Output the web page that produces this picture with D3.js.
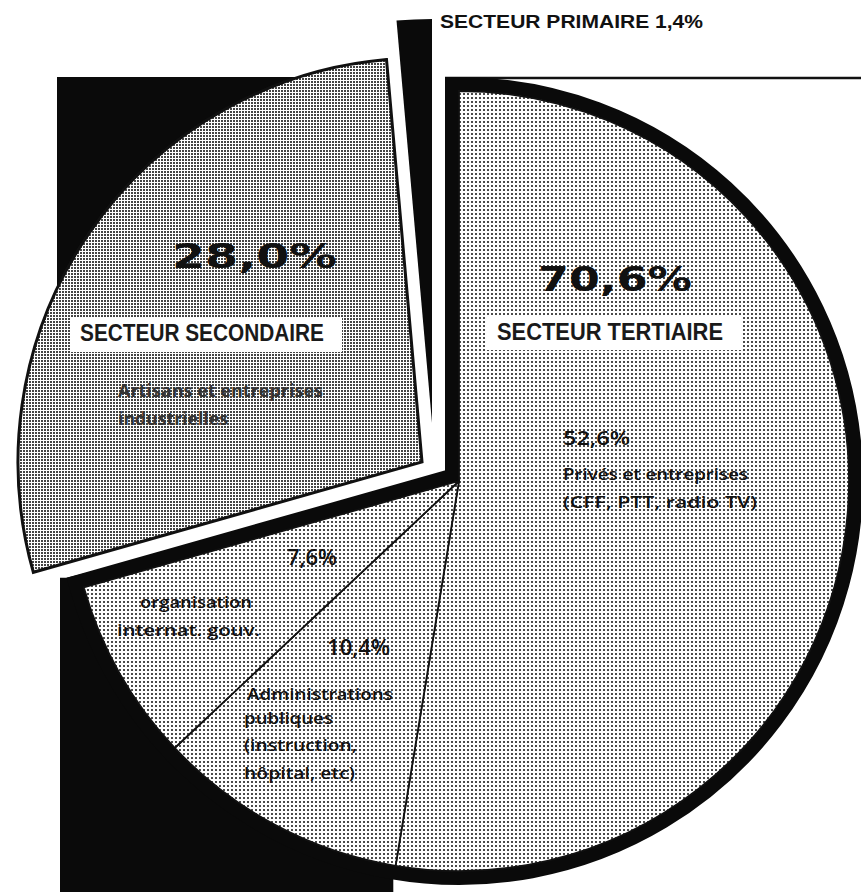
<!DOCTYPE html>
<html>
<head>
<meta charset="utf-8">
<script src="https://cdn.jsdelivr.net/npm/d3@7"></script>
<style>
body{margin:0;background:#fff;}
svg{display:block;}
</style>
</head>
<body>
<svg id="chart" width="861" height="892"></svg>
<script>
// données (ordre de dessin : tertiaire, secondaire, primaire, sens horaire depuis midi)
var sectors = ["tertiaire", "secondaire", "primaire"];
var sectorShares = [70.6, 28.0, 1.4];
var sectorPct = ["70,6%", "28,0%", "1,4%"];
var sectorNames = ["SECTEUR TERTIAIRE", "SECTEUR SECONDAIRE", "SECTEUR PRIMAIRE"];
var tertiaryParts = ["privés", "administrations", "organisation"];
var tertiaryShares = [52.6, 10.4, 7.6];
var tertiaryPct = ["52,6%", "10,4%", "7,6%"];
var tertiaryText = [
	["Privés et entreprises", "(CFF, PTT, radio TV)"],
	["Administrations", "publiques", "(instruction,", "hôpital, etc)"],
	["organisation", "internat. gouv."]
];
var secondaryText = ["Artisans et entreprises", "industrielles"];

var W = 861, H = 892;
var cx = 459, cy = 481;
var rFace = 390, rim = 14, rOut = rFace + rim;
var explode = { secondaire: [-37, -19], primaire: [-27, -58] };

var svg = d3.select("#chart");

// trames
var defs = svg.append("defs");
var p1 = defs.append("pattern").attr("id","dots").attr("patternUnits","userSpaceOnUse")
	.attr("width",4).attr("height",4);
p1.append("rect").attr("width",4).attr("height",4).attr("fill","#fff");
p1.append("rect").attr("width",2).attr("height",2).attr("fill","#4a4a4a");
var p2 = defs.append("pattern").attr("id","lines").attr("patternUnits","userSpaceOnUse")
	.attr("width",3).attr("height",3);
p2.append("rect").attr("width",3).attr("height",3).attr("fill","#fff");
p2.append("rect").attr("width",2).attr("height",2).attr("fill","#444");

var pie = d3.pie().sort(null).value(function(d){ return d; });
var arcs = pie(sectorShares);
var tert = arcs[0], sec = arcs[1], prim = arcs[2];
var subArcs = d3.pie().sort(null).startAngle(tert.startAngle).endAngle(tert.endAngle)(tertiaryShares);

var arcFace = d3.arc().innerRadius(0).outerRadius(rFace);
var arcOut = d3.arc().innerRadius(0).outerRadius(rOut);

function pt(ox, oy, a, r){ return [ox + r*Math.sin(a), oy - r*Math.cos(a)]; }

var sx = cx + explode.secondaire[0], sy = cy + explode.secondaire[1];
var px = cx + explode.primaire[0], py = cy + explode.primaire[1];
var frameL = cx - rOut, frameT = cy - rOut;

// filet du haut
svg.append("line")
	.attr("x1", cx - rim).attr("x2", W)
	.attr("y1", frameT + 1).attr("y2", frameT + 1)
	.attr("stroke","#111").attr("stroke-width",2.5);

// ombre noire en haut à gauche
var secCorner = pt(sx, sy, sec.endAngle, rOut);
svg.append("rect")
	.attr("x", frameL + 2).attr("y", frameT)
	.attr("width", secCorner[0] - frameL - 2).attr("height", sy - frameT)
	.attr("fill","#0a0a0a");

// épaisseur noire en bas à gauche
var a2 = tert.endAngle, a1 = subArcs[0].endAngle;
var fp = pt(cx, cy, a2, rFace);
var cornerA = [fp[0] + rim*Math.sin(a2) + rim*Math.cos(a2),
	fp[1] - rim*Math.cos(a2) + rim*Math.sin(a2)];
var B = pt(cx, cy, a1, rOut);
svg.append("path")
	.attr("d", d3.line()([[cx, cy], cornerA, [frameL + 5, cornerA[1]], [frameL + 5, H + 20], [B[0], H + 20], B]) + "Z")
	.attr("fill","#0a0a0a");

// secteur tertiaire : socle noir puis faces tramées
svg.append("path")
	.attr("transform","translate(" + cx + "," + cy + ")")
	.attr("d", arcFace(tert))
	.attr("fill","#0a0a0a").attr("stroke","#0a0a0a")
	.attr("stroke-width", rim*2).attr("stroke-linejoin","miter").attr("stroke-miterlimit",10);

svg.append("g").attr("transform","translate(" + cx + "," + cy + ")")
	.selectAll("path").data(subArcs).enter().append("path")
	.attr("d", arcFace)
	.attr("fill","url(#dots)")
	.attr("stroke","#111").attr("stroke-width",1.8);

// secteur secondaire (détaché)
svg.append("path")
	.attr("transform","translate(" + sx + "," + sy + ")")
	.attr("d", arcOut(sec))
	.attr("fill","url(#lines)")
	.attr("stroke","#111").attr("stroke-width",3).attr("stroke-linejoin","miter");

// secteur primaire (détaché)
svg.append("path")
	.attr("transform","translate(" + px + "," + py + ")")
	.attr("d", arcOut(prim))
	.attr("fill","#0a0a0a");

// textes
function label(t, x, y, size, len, font, weight, color){
	svg.append("text").attr("x",x).attr("y",y)
		.attr("font-family",font).attr("font-weight",weight)
		.attr("font-size",size).attr("fill",color || "#111")
		.attr("textLength",len).attr("lengthAdjust","spacingAndGlyphs")
		.text(t);
}
var sans = "'Liberation Sans', Arial, sans-serif";
var big = "'DejaVu Sans', sans-serif";
var soft = "'Open Sans', 'Noto Sans', sans-serif";

label(sectorNames[2] + " " + sectorPct[2], 440, 28, 18.5, 263, sans, "bold");

label(sectorPct[1], 172, 268, 34, 165, big, "bold");
label(sectorPct[0], 538, 291, 34, 154, big, "bold");

svg.append("rect").attr("x",70).attr("y",317).attr("width",272).attr("height",35).attr("fill","#fff");
label(sectorNames[1], 80, 341, 23, 244, sans, "bold", "#1a1a1a");
svg.append("rect").attr("x",485).attr("y",317).attr("width",258).attr("height",33).attr("fill","#fff");
label(sectorNames[0], 497, 340, 23, 226, sans, "bold", "#1a1a1a");

label(secondaryText[0], 118, 397, 17, 205, soft, 700, "#333");
label(secondaryText[1], 118, 425, 17, 110, soft, 700, "#333");

label(tertiaryPct[0], 563, 445, 20, 67, soft, 600);
label(tertiaryText[0][0], 563, 480, 17, 185, soft, 600);
label(tertiaryText[0][1], 563, 508, 17, 194, soft, 600);

label(tertiaryPct[2], 287, 565, 21, 50, soft, 600);
label(tertiaryText[2][0], 140, 608, 17, 112, soft, 600);
label(tertiaryText[2][1], 117, 636, 17, 143, soft, 600);

label(tertiaryPct[1], 327, 655, 21, 63, soft, 600);
var adminLens = [146, 89, 113, 111];
tertiaryText[1].forEach(function(t, i){
	label(t, i == 0 ? 247 : 244, 700 + i*26 + (i > 0 ? -4 + i*1.5 : 0), 17, adminLens[i], soft, 600);
});
</script>
</body>
</html>
